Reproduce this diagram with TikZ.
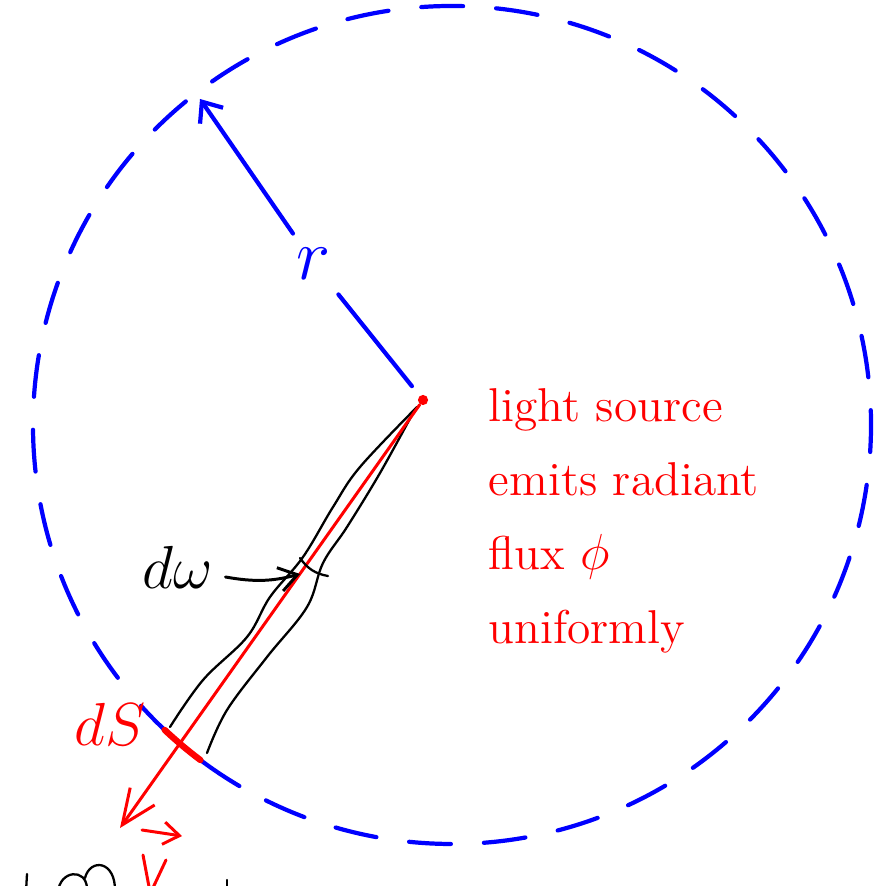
\documentclass[tikz,border=0pt]{standalone}
\usepackage{tikz}
\usetikzlibrary{arrows.meta}

\begin{document}
\begin{tikzpicture}[x=0.01cm, y=-0.01cm,
      sphere/.style={blue, line width=1.2pt, line cap=round},
      beam/.style={red, line width=0.85pt, line cap=round},
      cone/.style={black, line width=0.65pt, line cap=round},
      lbl/.style={font=\fontsize{#1}{#1}\selectfont},
      barb/.style={-{Straight Barb[length=#1, width=#1*1.4]}}]
    \clip (0,0) rectangle (884,886);
    \coordinate (ctr) at (452,425);
    \draw[sphere, dash pattern=on 11.9pt off 9.4pt] (ctr) ++(142.9:419) arc[start angle=142.9, end angle=476.6, radius=419];
    \draw[sphere] (ctr) ++(120.5:419) arc[start angle=120.5, end angle=137.9, radius=419];
    \node[circle, fill=red, inner sep=0pt, minimum size=2.9pt] (src) at (423,400) {};
    \node[blue, lbl=20, inner sep=4pt] (rlab) at (314,264) {$r$};
    \coordinate (rtip) at (200,99);
    \draw[sphere, shorten <=3.4pt] (src) -- (rlab);
    \draw[sphere, -{Straight Barb[length=1.7mm, width=2.8mm]}] (rlab) -- (rtip);
    \draw[cone] plot[smooth, tension=0.6] coordinates {(417,407) (360,467) (333,507) (303,557) (270,597) (247,637) (203,680) (170,727)};
    \draw[cone] plot[smooth, tension=0.6] coordinates {(413,413) (380,473) (347,527) (323,563) (307,607) (267,657) (227,710) (207,753)};
    \coordinate (raytip) at (120,828);
    \draw[beam, -{Straight Barb[length=3.5mm, width=3mm]}] (src) -- (raytip);
    \draw[red, line width=1.8pt, line cap=round] (ctr) ++(126.9:419) arc[start angle=126.9, end angle=133.3, radius=419];
    \node[red, lbl=18] (dS) at (110,724) {$dS$};
    \draw[cone] (300,558) to[out=-55, in=170] (328,576);
    \coordinate (dwtip) at (300,574);
    \node[lbl=16] (dw) at (178,567) {$d\omega$};
    \draw[cone, line width=0.85pt, -{Straight Barb[length=1.8mm, width=2.4mm]}] ([yshift=-1mm]dw.east) to[out=-10, in=195] (dwtip);
    \node[red, anchor=north west, align=left, inner sep=0pt, font=\fontsize{13.5}{21}\selectfont] (note) at (488,388) {light source\\emits radiant\\flux $\phi$\\uniformly};
    \draw[beam, barb=1.6mm] (142,830) -- (182,836);
    \draw[beam] (143,855) -- (150,892);
    \draw[beam] (166,860) -- (151,892);
    \draw[cone] (27,874) -- (26,892);
    \draw[cone] (58,892) .. controls (60,870) and (86,868) .. (87,888);
    \draw[cone] (85,878) .. controls (90,858) and (116,860) .. (115,892);
    \draw[cone] (227,880) -- (227,892);
\end{tikzpicture}
\end{document}
